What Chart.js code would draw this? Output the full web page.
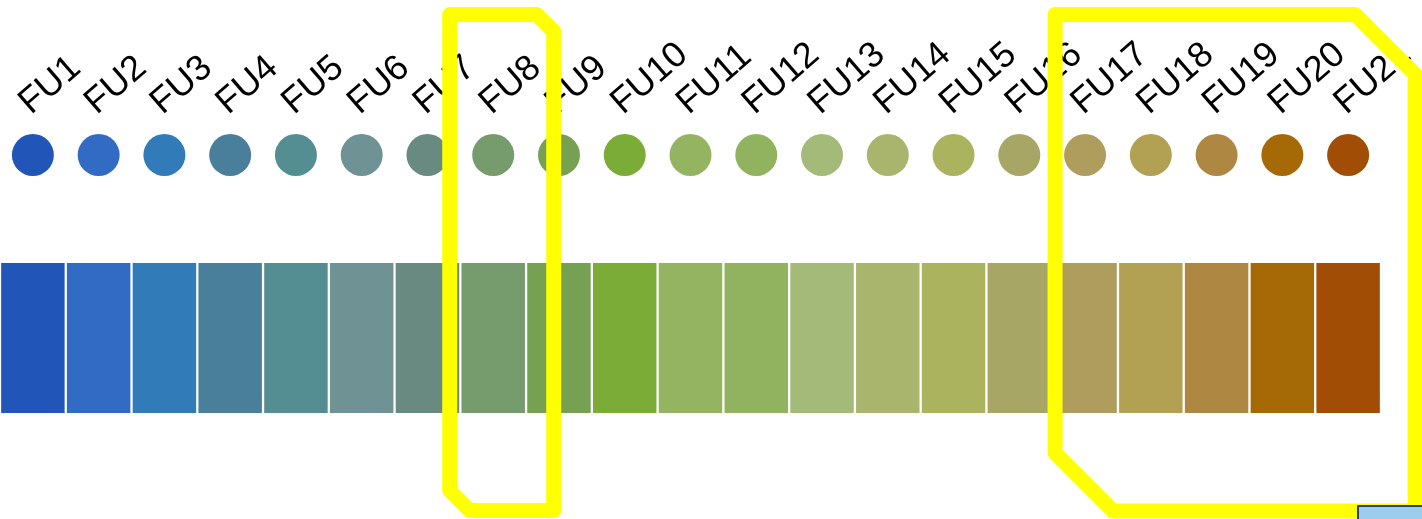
<!DOCTYPE html>
<html>
<head>
<meta charset="utf-8">
<script src="https://cdn.jsdelivr.net/npm/chart.js@4.4.1/dist/chart.umd.min.js"></script>
<style>
  html, body { margin: 0; padding: 0; background: #fff; }
  #wrap { width: 1422px; height: 519px; position: relative; }
</style>
</head>
<body>
<div id="wrap"><canvas id="scale"></canvas></div>
<script>
var labels = ['FU1', 'FU2', 'FU3', 'FU4', 'FU5', 'FU6', 'FU7', 'FU8', 'FU9', 'FU10', 'FU11',
  'FU12', 'FU13', 'FU14', 'FU15', 'FU16', 'FU17', 'FU18', 'FU19', 'FU20', 'FU21'];
var colours = ['#2156b8', '#316bc4', '#317cb8', '#4a7f9c', '#548d92', '#6f9294', '#688a80',
  '#769c6e', '#76a152', '#7cac38', '#94b462', '#91b35f', '#a4ba78', '#a9b56c', '#abb35e',
  '#a7a664', '#ae9d5d', '#b2a053', '#ae8843', '#a56a06', '#a24d05'];
var dotLevel = labels.map(function () { return 5.16; });
var barRange = labels.map(function () { return [0, 3]; });
// highlighted groups (first and last index)
var highlights = [[7, 7], [16, 20]];

// draws the yellow outlines and the little box at the bottom right
var outlinePlugin = {
    id: 'outline',
    afterDraw: function (chart) {
        var ctx = chart.ctx;
        var x = chart.scales.x;
        var shapes = [
            { l: x.getPixelForValue(highlights[0][0]) - 43.5, r: x.getPixelForValue(highlights[0][1]) + 60.5, cut: 17, cutB: 20, bottom: 510.5 },
            { l: x.getPixelForValue(highlights[1][0]) - 30, r: x.getPixelForValue(highlights[1][1]) + 67, cut: 60, cutB: 58, bottom: 511 }
        ];
        ctx.save();
        ctx.strokeStyle = '#ffff00';
        ctx.lineWidth = 15;
        ctx.lineJoin = 'round';
        shapes.forEach(function (s) {
            var top = 14.5;
            ctx.beginPath();
            ctx.moveTo(s.l, top);
            ctx.lineTo(s.r - s.cut, top);
            ctx.lineTo(s.r, top + s.cut);
            ctx.lineTo(s.r, s.bottom);
            ctx.lineTo(s.l + s.cutB, s.bottom);
            ctx.lineTo(s.l, s.bottom - s.cutB);
            ctx.closePath();
            ctx.stroke();
        });
        ctx.fillStyle = '#9dcdee';
        ctx.strokeStyle = '#23408a';
        ctx.lineWidth = 2;
        ctx.fillRect(1358, 506, 70, 20);
        ctx.strokeRect(1358, 506, 70, 20);
        ctx.restore();
    }
};

var ctx = document.getElementById('scale').getContext('2d');
var chart = new Chart(ctx, {
    data: {
        labels: labels,
        datasets: [{
            type: 'scatter',
            data: dotLevel.map(function (v, i) { return { x: labels[i], y: v }; }),
            pointRadius: 21,
            pointHoverRadius: 21,
            pointBackgroundColor: colours,
            pointBorderWidth: 0,
            showLine: false
        }, {
            type: 'bar',
            data: barRange,
            backgroundColor: colours,
            borderWidth: 0,
            barPercentage: 0.965,
            categoryPercentage: 1
        }]
    },
    options: {
        responsive: true,
        maintainAspectRatio: false,
        animation: false,
        events: [],
        layout: { autoPadding: false, padding: { left: 0, right: 41, top: 0, bottom: 0 } },
        plugins: {
            legend: { display: false },
            tooltip: { enabled: false }
        },
        scales: {
            x: {
                type: 'category',
                position: 'top',
                offset: true,
                grid: { display: false },
                border: { display: false },
                afterFit: function (s) {
                    s.height = 122;
                    s.paddingLeft = 0;
                    s.paddingRight = 0;
                },
                ticks: {
                    autoSkip: false,
                    maxRotation: 41,
                    minRotation: 41,
                    padding: -10,
                    labelOffset: 20,
                    color: '#000',
                    font: { family: '"Liberation Sans", Arial, sans-serif', size: 36 }
                }
            },
            y: {
                display: false,
                min: -2.12,
                max: 5.82
            }
        }
    },
    plugins: [outlinePlugin]
});
</script>
</body>
</html>
